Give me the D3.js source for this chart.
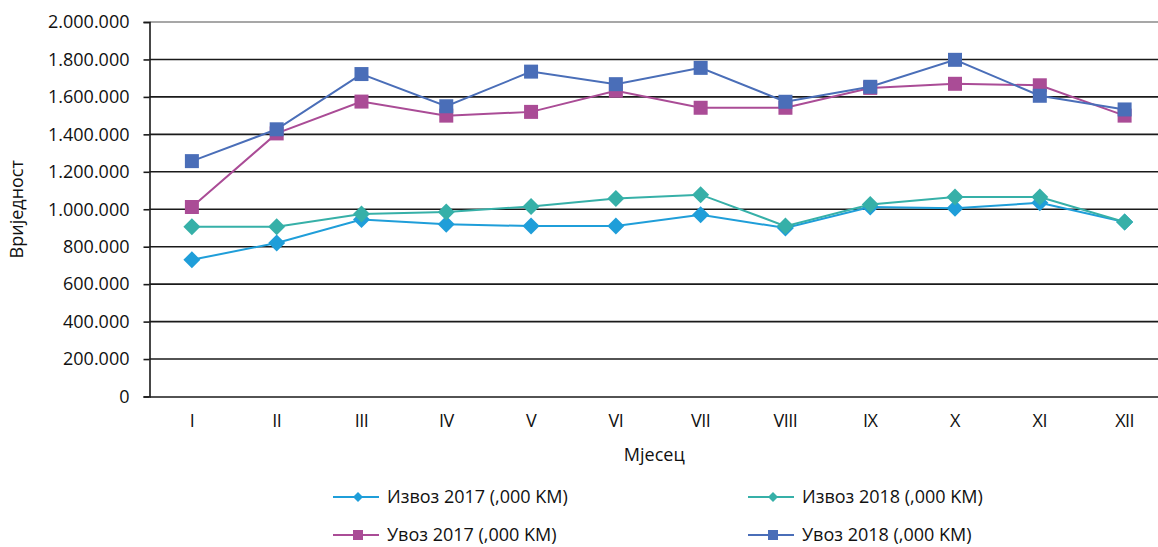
<!DOCTYPE html>
<html>
<head>
<meta charset="utf-8">
<script src="https://cdn.jsdelivr.net/npm/d3@7"></script>
<style>
  body { margin: 0; background: #fff; }
  svg text { font-family: "Open Sans", sans-serif; fill: #111; }
</style>
</head>
<body>
<div class="chart"></div>
<script>
// months on the x axis
const months = ['I','II','III','IV','V','VI','VII','VIII','IX','X','XI','XII'];
// values in ,000 KM
const izvoz2017 = [730000, 820000, 945000, 920000, 910000, 910000, 970000, 900000, 1012000, 1005000, 1035000, 932000];
const izvoz2018 = [907000, 907000, 975000, 985000, 1015000, 1057000, 1078000, 910000, 1025000, 1065000, 1065000, 932000];
const uvoz2017 = [1012000, 1405000, 1575000, 1500000, 1520000, 1633000, 1542000, 1542000, 1648000, 1670000, 1662000, 1500000];
const uvoz2018 = [1257000, 1427000, 1722000, 1550000, 1735000, 1668000, 1755000, 1574000, 1654000, 1798000, 1606000, 1533000];
const seriesNames = ['Извоз 2017 (,000 KM)', 'Извоз 2018 (,000 KM)', 'Увоз 2017 (,000 KM)', 'Увоз 2018 (,000 KM)'];
const yTicks = [0, 200000, 400000, 600000, 800000, 1000000, 1200000, 1400000, 1600000, 1800000, 2000000];

const series = [
  {name: seriesNames[0], values: izvoz2017, color: '#1f9ed9', shape: 'diamond'},
  {name: seriesNames[1], values: izvoz2018, color: '#36b0a8', shape: 'diamond'},
  {name: seriesNames[2], values: uvoz2017, color: '#aa4c96', shape: 'square'},
  {name: seriesNames[3], values: uvoz2018, color: '#4a6eb8', shape: 'square'}
];

const W = 1158, H = 547;
const m = {left: 149.5, right: 1167, top: 22, bottom: 396.5};
const fs = 18;

const svg = d3.select('.chart').append('svg')
  .attr('width', W).attr('height', H);

const x = d3.scaleBand().domain(months).range([m.left, m.right]);
const y = d3.scaleLinear().domain([0, 2000000]).range([m.bottom, m.top]);

const loc = d3.formatLocale({decimal: ',', thousands: '.', grouping: [3], currency: ['', '']});
const fmt = loc.format(',');

// gridlines
svg.append('g').selectAll('line')
  .data(yTicks.filter(d => d > 0))
  .join('line')
  .attr('x1', m.left).attr('x2', W)
  .attr('y1', d => y(d)).attr('y2', d => y(d))
  .attr('stroke', d => d === 2000000 ? '#8a8a8a' : '#1a1a1a')
  .attr('stroke-width', 1.6);

// y axis
const yAxis = d3.axisLeft(y).tickValues(yTicks).tickFormat(fmt).tickSize(6).tickPadding(14);
const gy = svg.append('g').attr('transform', `translate(${m.left},0)`).call(yAxis);
gy.select('.domain').attr('stroke', '#1a1a1a').attr('stroke-width', 1.6);
gy.selectAll('.tick line').attr('stroke', '#1a1a1a').attr('stroke-width', 1.6);
gy.selectAll('.tick text').attr('font-size', fs).attr('fill', '#111');

// x axis
const xAxis = d3.axisBottom(x).tickSize(0).tickPadding(18);
const gx = svg.append('g').attr('transform', `translate(0,${m.bottom})`).call(xAxis);
gx.select('.domain').attr('stroke', '#1a1a1a').attr('stroke-width', 1.6);
gx.selectAll('.tick text').attr('font-size', fs).attr('fill', '#111')
  .attr('letter-spacing', '-0.5px');

// axis titles
svg.append('text')
  .attr('transform', `translate(23,${(m.top + m.bottom) / 2}) rotate(-90)`)
  .attr('text-anchor', 'middle')
  .attr('font-size', fs)
  .text('Вриједност');

svg.append('text')
  .attr('x', (m.left + m.right) / 2 - 4).attr('y', 461)
  .attr('text-anchor', 'middle')
  .attr('font-size', fs)
  .text('Мјесец');

function marker(sel, shape, size) {
  if (shape === 'diamond') {
    sel.attr('d', `M0,${-size}L${size},0L0,${size}L${-size},0Z`);
  } else {
    sel.attr('d', `M${-size},${-size}H${size}V${size}H${-size}Z`);
  }
}

const line = d3.line()
  .x((d, i) => x(months[i]) + x.bandwidth() / 2)
  .y(d => y(d));

series.forEach(s => {
  const g = svg.append('g');
  g.append('path')
    .datum(s.values)
    .attr('fill', 'none')
    .attr('stroke', s.color)
    .attr('stroke-width', 2)
    .attr('d', line);
  g.selectAll('path.m')
    .data(s.values)
    .join('path')
    .attr('class', 'm')
    .attr('transform', (d, i) => `translate(${x(months[i]) + x.bandwidth() / 2},${y(d)})`)
    .attr('fill', s.color)
    .call(marker, s.shape, s.shape === 'diamond' ? 8.5 : 7);
});

// legend
const legendPos = [[333, 497], [748, 497], [333, 535], [748, 535]];
series.forEach((s, i) => {
  const [lx, ly] = legendPos[i];
  const g = svg.append('g').attr('transform', `translate(${lx},${ly})`);
  g.append('line').attr('x1', 0).attr('x2', 46).attr('y1', 0).attr('y2', 0)
    .attr('stroke', s.color).attr('stroke-width', 2);
  g.append('path').attr('transform', 'translate(25,0)').attr('fill', s.color)
    .call(marker, s.shape, 5);
  g.append('text').attr('x', 54).attr('y', 0).attr('dy', '0.35em')
    .attr('font-size', fs)
    .text(s.name);
});
</script>
</body>
</html>
